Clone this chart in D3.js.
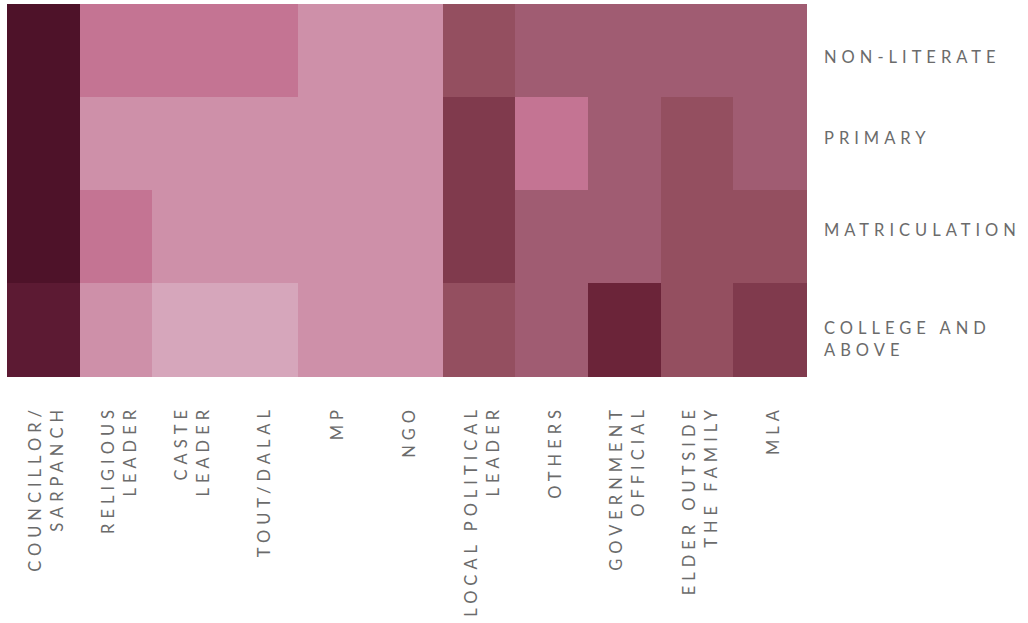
<!DOCTYPE html>
<html>
<head>
<meta charset="utf-8">
<script src="https://cdn.jsdelivr.net/npm/d3@7"></script>
<style>
  html, body { margin: 0; padding: 0; background: #fff; }
  svg { display: block; }
  text { font-family: Lato, "Open Sans", sans-serif; fill: #6b6b6b; font-weight: 400; }
</style>
</head>
<body>
<svg id="chart" width="1028" height="623"></svg>
<script>
// ---- data ----
const categories = [
  "COUNCILLOR/\nSARPANCH", "RELIGIOUS\nLEADER", "CASTE\nLEADER", "TOUT/DALAL",
  "MP", "NGO", "LOCAL POLITICAL\nLEADER", "OTHERS", "GOVERNMENT\nOFFICIAL",
  "ELDER OUTSIDE\nTHE FAMILY", "MLA"
];
const educationLevels = ["NON-LITERATE", "PRIMARY", "MATRICULATION", "COLLEGE AND\nABOVE"];
// intensity level (1 = lightest, 9 = darkest) per education level, in category order
const nonLiterate   = [9, 3, 3, 3, 2, 2, 5, 4, 4, 4, 4];
const primary       = [9, 2, 2, 2, 2, 2, 6, 3, 4, 5, 4];
const matriculation = [9, 3, 2, 2, 2, 2, 6, 4, 4, 5, 5];
const collegeAbove  = [8, 2, 1, 1, 2, 2, 5, 4, 7, 5, 6];
const levels = [1, 2, 3, 4, 5, 6, 7, 8, 9];
const palette = ["#d6a6bb", "#ce90a9", "#c47493", "#a05c72", "#944f60",
                 "#803a4d", "#6b2439", "#5c1a33", "#4e1229"];

const rows = [nonLiterate, primary, matriculation, collegeAbove];
const cells = [];
rows.forEach((vals, r) => vals.forEach((v, c) =>
  cells.push({ row: educationLevels[r], col: categories[c], value: v })));

// ---- layout ----
const svg = d3.select("#chart");
const plot = { left: 7, top: 4, right: 806, bottom: 376 };

const x = d3.scaleBand().domain(categories).range([plot.left, plot.right]).padding(0);
const y = d3.scaleBand().domain(educationLevels).range([plot.top, plot.bottom]).padding(0);
const color = d3.scaleOrdinal().domain(levels).range(palette);

svg.append("g").attr("shape-rendering", "crispEdges").selectAll("rect")
  .data(cells)
  .join("rect")
  .attr("x", d => x(d.col))
  .attr("y", d => y(d.row))
  .attr("width", x.bandwidth() + 0.6)
  .attr("height", y.bandwidth() + 0.6)
  .attr("fill", d => color(d.value));

const fs = "16.5px", ls = "5px";

// row labels (right side)
const rowNudge = [6.5, -5.5, -6.5, 9.5];
const lh = 22.5;
const rowG = svg.append("g");
educationLevels.forEach((lab, i) => {
  const lines = lab.split("\n");
  const cy = y(lab) + y.bandwidth() / 2 + rowNudge[i] - (lines.length - 1) * lh / 2;
  const t = rowG.append("text")
    .style("font-size", fs)
    .style("letter-spacing", ls);
  lines.forEach((ln, j) => t.append("tspan").attr("x", 824).attr("y", cy + j * lh).attr("dy", "0.36em").text(ln));
});

// column labels (rotated, bottom)
const colG = svg.append("g");
const clh = 22;
categories.forEach(cat => {
  const lines = cat.split("\n");
  const cx = x(cat) + x.bandwidth() / 2 + 3;
  const g = colG.append("g").attr("transform", `translate(${cx - (lines.length - 1) * clh / 2},405) rotate(-90)`);
  lines.forEach((ln, j) => g.append("text")
    .attr("x", 0)
    .attr("y", j * clh)
    .attr("dy", "0.36em")
    .attr("text-anchor", "end")
    .style("font-size", fs)
    .style("letter-spacing", ls)
    .text(ln));
});
</script>
</body>
</html>
